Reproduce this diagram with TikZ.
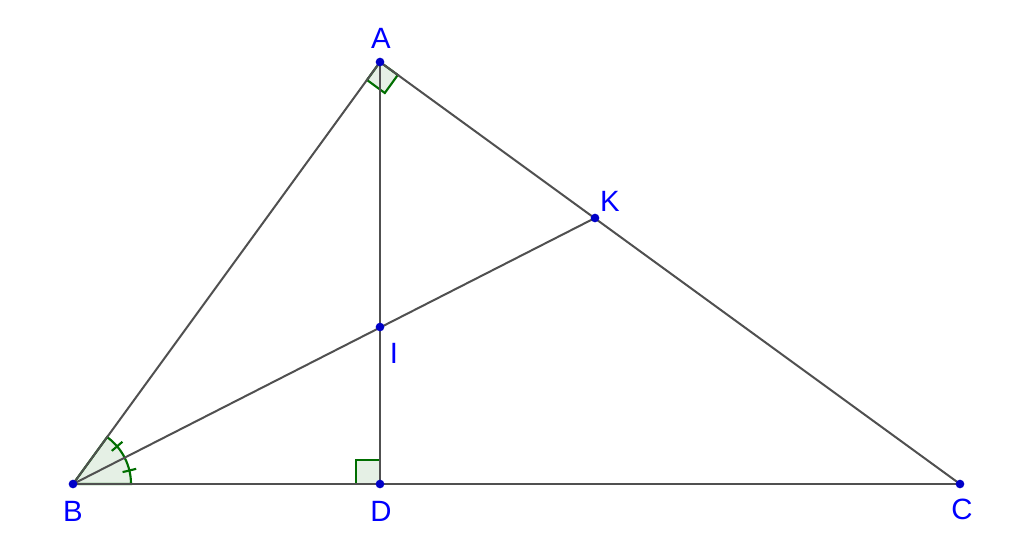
\documentclass[tikz,border=0pt]{standalone}
\usepackage{fontspec}
\setmainfont{Liberation Sans}
\definecolor{seg}{RGB}{80,80,80}
\definecolor{angc}{RGB}{0,110,0}
\definecolor{ptc}{RGB}{0,0,200}
\definecolor{labc}{RGB}{0,0,255}
\tikzset{
  segline/.style={draw=seg, line width=1.5pt},
  angmark/.style={draw=angc, line width=1.6pt, fill=angc, fill opacity=0.1},
  tickmark/.style={draw=angc, line width=1.6pt},
  pt/.style={circle, fill=ptc, inner sep=0pt, minimum size=6.5pt},
  lab/.style={text=labc, font=\fontsize{22}{26}\selectfont, inner sep=0pt}
}
\begin{document}
\begin{tikzpicture}[x=0.75pt,y=-0.75pt]
\useasboundingbox (0,0) rectangle (1024,547);
\coordinate (A) at (380,62);
\coordinate (B) at (73,484);
\coordinate (C) at (960,484);
\coordinate (D) at (380,484);
\coordinate (K) at (595,218);
\coordinate (I) at (380,327);
% angle at B
\draw[angmark] (B) -- ++(0:58) arc[start angle=0, end angle=-53.96, radius=58] -- cycle;
\draw[tickmark] (B) ++(-13.5:51) -- ++(-13.5:14);
\draw[tickmark] (B) ++(-40.5:51) -- ++(-40.5:14);
% right angle at A
\draw[angmark] (A) -- ++(-13,18) -- ++(17.8,13) -- ++(13,-18) -- cycle;
% right angle at D
\draw[angmark] (D) -- ++(-24,0) -- ++(0,-24) -- ++(24,0) -- cycle;
% segments
\draw[segline] (A) -- (B);
\draw[segline] (A) -- (C);
\draw[segline] (B) -- (C);
\draw[segline] (A) -- (D);
\draw[segline] (B) -- (K);
% points
\node[pt] (nA) at (A) {};
\node[pt] (nB) at (B) {};
\node[pt] (nC) at (C) {};
\node[pt] (nD) at (D) {};
\node[pt] (nK) at (K) {};
\node[pt] (nI) at (I) {};
% labels
\node[lab] (lA) at (381,38) {A};
\node[lab] (lB) at (73,511) {B};
\node[lab] (lC) at (962,509) {C};
\node[lab] (lD) at (381,511) {D};
\node[lab] (lK) at (610,201) {K};
\node[lab] (lI) at (394,353) {I};
\end{tikzpicture}
\end{document}
